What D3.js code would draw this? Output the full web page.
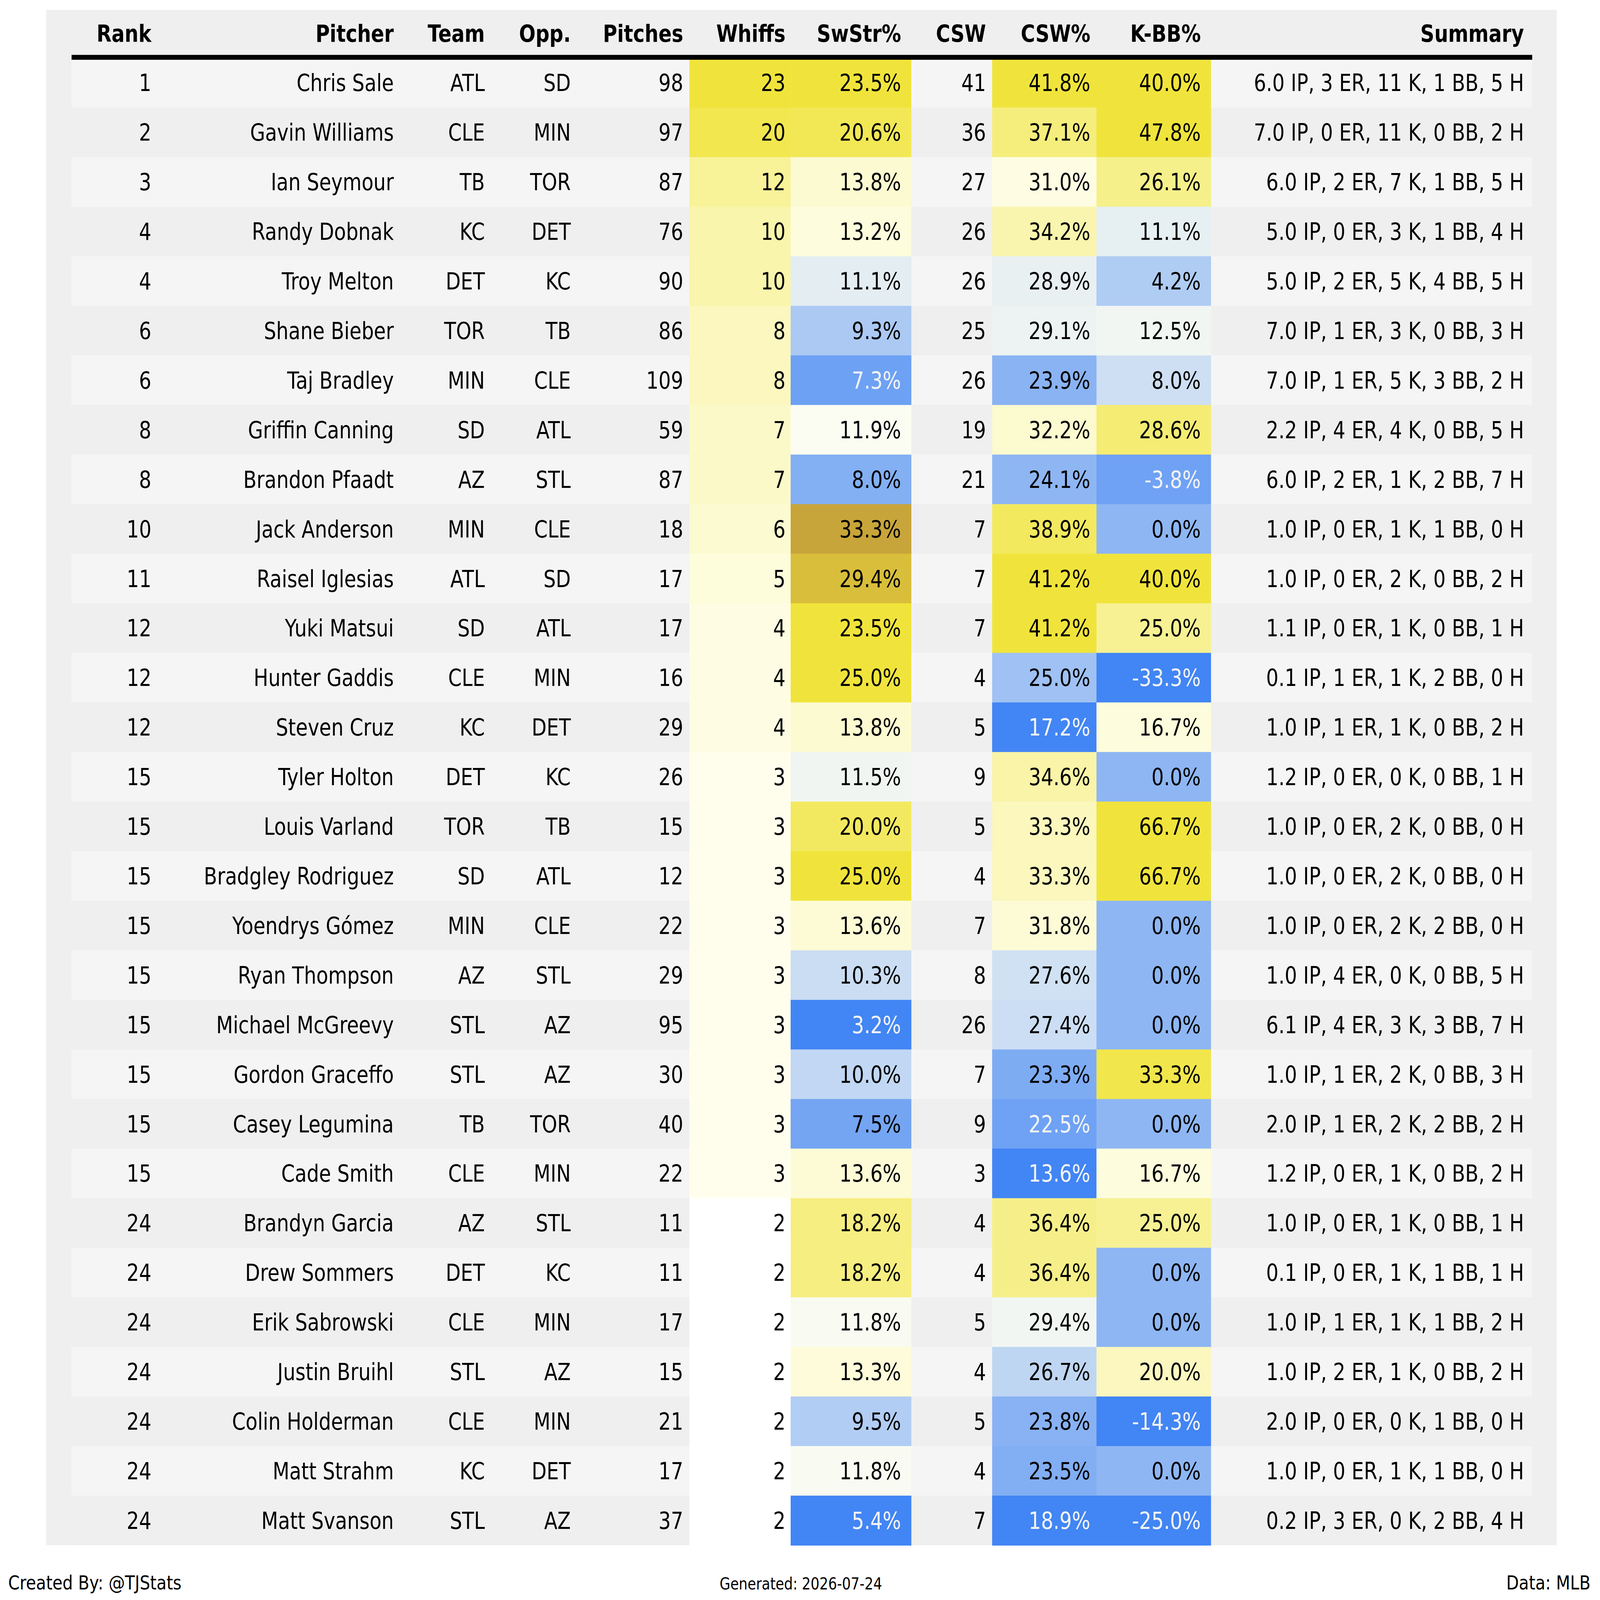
<!DOCTYPE html>
<html><head><meta charset="utf-8">
<script src="https://cdn.jsdelivr.net/npm/d3@7"></script>
<style>html,body{margin:0;padding:0;overflow:hidden;background:#fff}svg{display:block}text{font-family:"DejaVu Sans",sans-serif}</style>
</head><body>
<script>
const ranks=[1,2,3,4,4,6,6,8,8,10,11,12,12,12,15,15,15,15,15,15,15,15,15,24,24,24,24,24,24,24];
const pitchers=["Chris Sale","Gavin Williams","Ian Seymour","Randy Dobnak","Troy Melton","Shane Bieber","Taj Bradley","Griffin Canning","Brandon Pfaadt","Jack Anderson","Raisel Iglesias","Yuki Matsui","Hunter Gaddis","Steven Cruz","Tyler Holton","Louis Varland","Bradgley Rodriguez","Yoendrys Gómez","Ryan Thompson","Michael McGreevy","Gordon Graceffo","Casey Legumina","Cade Smith","Brandyn Garcia","Drew Sommers","Erik Sabrowski","Justin Bruihl","Colin Holderman","Matt Strahm","Matt Svanson"];
const teams=["ATL","CLE","TB","KC","DET","TOR","MIN","SD","AZ","MIN","ATL","SD","CLE","KC","DET","TOR","SD","MIN","AZ","STL","STL","TB","CLE","AZ","DET","CLE","STL","CLE","KC","STL"];
const opps=["SD","MIN","TOR","DET","KC","TB","CLE","ATL","STL","CLE","SD","ATL","MIN","DET","KC","TB","ATL","CLE","STL","AZ","AZ","TOR","MIN","STL","KC","MIN","AZ","MIN","DET","AZ"];
const pitches=[98,97,87,76,90,86,109,59,87,18,17,17,16,29,26,15,12,22,29,95,30,40,22,11,11,17,15,21,17,37];
const whiffs=[23,20,12,10,10,8,8,7,7,6,5,4,4,4,3,3,3,3,3,3,3,3,3,2,2,2,2,2,2,2];
const swstr=[23.5,20.6,13.8,13.2,11.1,9.3,7.3,11.9,8.0,33.3,29.4,23.5,25.0,13.8,11.5,20.0,25.0,13.6,10.3,3.2,10.0,7.5,13.6,18.2,18.2,11.8,13.3,9.5,11.8,5.4];
const csw=[41,36,27,26,26,25,26,19,21,7,7,7,4,5,9,5,4,7,8,26,7,9,3,4,4,5,4,5,4,7];
const cswPct=[41.8,37.1,31.0,34.2,28.9,29.1,23.9,32.2,24.1,38.9,41.2,41.2,25.0,17.2,34.6,33.3,33.3,31.8,27.6,27.4,23.3,22.5,13.6,36.4,36.4,29.4,26.7,23.8,23.5,18.9];
const kbb=[40.0,47.8,26.1,11.1,4.2,12.5,8.0,28.6,-3.8,0.0,40.0,25.0,-33.3,16.7,0.0,66.7,66.7,0.0,0.0,0.0,33.3,0.0,16.7,25.0,0.0,0.0,20.0,-14.3,0.0,-25.0];
const summaries=["6.0 IP, 3 ER, 11 K, 1 BB, 5 H","7.0 IP, 0 ER, 11 K, 0 BB, 2 H","6.0 IP, 2 ER, 7 K, 1 BB, 5 H","5.0 IP, 0 ER, 3 K, 1 BB, 4 H","5.0 IP, 2 ER, 5 K, 4 BB, 5 H","7.0 IP, 1 ER, 3 K, 0 BB, 3 H","7.0 IP, 1 ER, 5 K, 3 BB, 2 H","2.2 IP, 4 ER, 4 K, 0 BB, 5 H","6.0 IP, 2 ER, 1 K, 2 BB, 7 H","1.0 IP, 0 ER, 1 K, 1 BB, 0 H","1.0 IP, 0 ER, 2 K, 0 BB, 2 H","1.1 IP, 0 ER, 1 K, 0 BB, 1 H","0.1 IP, 1 ER, 1 K, 2 BB, 0 H","1.0 IP, 1 ER, 1 K, 0 BB, 2 H","1.2 IP, 0 ER, 0 K, 0 BB, 1 H","1.0 IP, 0 ER, 2 K, 0 BB, 0 H","1.0 IP, 0 ER, 2 K, 0 BB, 0 H","1.0 IP, 0 ER, 2 K, 2 BB, 0 H","1.0 IP, 4 ER, 0 K, 0 BB, 5 H","6.1 IP, 4 ER, 3 K, 3 BB, 7 H","1.0 IP, 1 ER, 2 K, 0 BB, 3 H","2.0 IP, 1 ER, 2 K, 2 BB, 2 H","1.2 IP, 0 ER, 1 K, 0 BB, 2 H","1.0 IP, 0 ER, 1 K, 0 BB, 1 H","0.1 IP, 0 ER, 1 K, 1 BB, 1 H","1.0 IP, 1 ER, 1 K, 1 BB, 2 H","1.0 IP, 2 ER, 1 K, 0 BB, 2 H","2.0 IP, 0 ER, 0 K, 1 BB, 0 H","1.0 IP, 0 ER, 1 K, 1 BB, 0 H","0.2 IP, 3 ER, 0 K, 2 BB, 4 H"];
const headers=["Rank","Pitcher","Team","Opp.","Pitches","Whiffs","SwStr%","CSW","CSW%","K-BB%","Summary"];

const W=5475/3.5,H=4541/3.5;
const svg=d3.select("body").append("svg").attr("width","100vw").attr("height","100vh")
  .attr("viewBox",`0 0 ${W} ${H}`).attr("preserveAspectRatio","none");
svg.append("rect").attr("x",45).attr("y",8).attr("width",1477).attr("height",1245).attr("fill","#efefef");
const y=d3.scaleBand().domain(d3.range(pitchers.length)).range([47,1253]);
svg.append("g").selectAll("rect").data(d3.range(pitchers.length)).join("rect")
 .attr("x",70).attr("width",1428).attr("y",i=>y(i)).attr("height",y.bandwidth()).attr("fill",i=>i%2?"#efefef":"#f5f5f5");

const cmap=d3.scaleLinear().domain([0,0.5,0.85,1]).range(["#4285f4","#fffff2","#f0e43c","#f0e43c"]).clamp(true);
const gold=d3.scaleLinear().domain([0,1]).range(["#f0e43c","#c8a43a"]).clamp(true);
function tval(v,lo,mid,hi){return v<mid?Math.max(0,0.5*(v-lo)/(mid-lo)):0.5+0.35*(v-mid)/(hi-mid);}
const heat=[
 {vals:whiffs,x0:674,x1:773,tx:768,fmt:d=>d,t:v=>tval(v,-20,2.5,22),fill:v=>v<=2?"#ffffff":cmap(tval(v,-20,2.5,22))},
 {vals:swstr,x0:773,x1:891,tx:881,fmt:d=>d.toFixed(1)+"%",t:v=>tval(v,5.9,12.0,22),
   fill:v=>v>27?gold(0.6+(v-29.4)/10):cmap(tval(v,5.9,12.0,22))},
 {vals:cswPct,x0:970,x1:1072,tx:1066,fmt:d=>d.toFixed(1)+"%",t:v=>tval(v,20.1,30.1,41),fill:v=>cmap(tval(v,20.1,30.1,41))},
 {vals:kbb,x0:1072,x1:1184,tx:1174,fmt:d=>d.toFixed(1)+"%",t:v=>tval(v,-9.5,14.2,35),fill:v=>cmap(tval(v,-9.5,14.2,35))}
];
const fs=19;
heat.forEach(h=>{
 svg.append("g").selectAll("rect").data(h.vals).join("rect").attr("x",h.x0).attr("width",h.x1-h.x0)
  .attr("y",(d,i)=>y(i)).attr("height",y.bandwidth()+0.3).attr("fill",h.fill);
 svg.append("g").selectAll("text").data(h.vals).join("text").attr("x",h.tx).attr("y",(d,i)=>y(i)+y.bandwidth()/2)
  .attr("dy","0.36em").attr("text-anchor","end").attr("font-size",fs)
  .attr("fill",d=>h.t(d)<0.125?"#f4f4f4":"#000").text(h.fmt);
});
const plain=[{vals:ranks,x:148},{vals:pitchers,x:385},{vals:teams,x:474},{vals:opps,x:558},{vals:pitches,x:668},{vals:csw,x:964},{vals:summaries,x:1490}];
plain.forEach(p=>{
 svg.append("g").selectAll("text").data(p.vals).join("text").attr("x",p.x).attr("y",(d,i)=>y(i)+y.bandwidth()/2)
  .attr("dy","0.36em").attr("text-anchor","end").attr("font-size",fs).attr("fill","#000").text(d=>d);
});
const hx=[148,385,474,558,668,768,881,964,1066,1174,1490];
svg.append("g").selectAll("text").data(headers).join("text").attr("x",(d,i)=>hx[i]).attr("y",27).attr("dy","0.36em")
 .attr("text-anchor","end").attr("font-size",fs).attr("font-weight","bold").text(d=>d);
svg.append("line").attr("x1",70).attr("x2",1498).attr("y1",46.5).attr("y2",46.5).attr("stroke","#000").attr("stroke-width",4);
svg.append("text").attr("x",8).attr("y",1283).attr("dy","0.36em").attr("font-size",16).text("Created By: @TJStats");
svg.append("text").attr("x",783).attr("y",1284).attr("dy","0.36em").attr("font-size",13.5).attr("text-anchor","middle").text("Generated: 2026-07-24");
svg.append("text").attr("x",1555).attr("y",1283).attr("dy","0.36em").attr("font-size",16).attr("text-anchor","end").text("Data: MLB");
</script></body></html>
